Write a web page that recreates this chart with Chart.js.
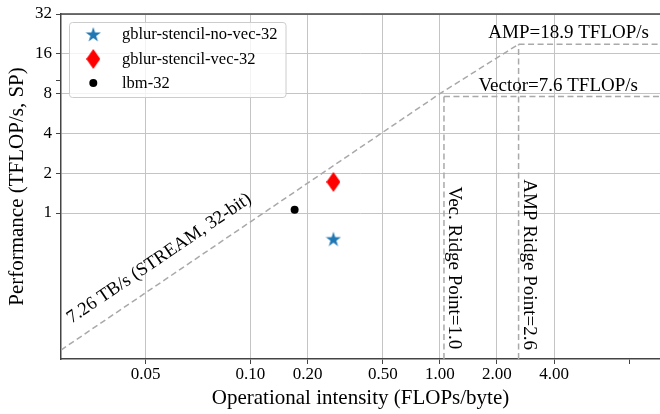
<!DOCTYPE html>
<html>
<head>
<meta charset="utf-8">
<script src="https://cdn.jsdelivr.net/npm/chart.js"></script>
<style>
  html, body { margin: 0; padding: 0; background: #fff; overflow: hidden; }
  #wrap { width: 660px; height: 414px; }
  canvas { display: block; }
</style>
</head>
<body>
<div id="wrap"><canvas id="roofline" width="660" height="414"></canvas></div>
<script>
// kernels
const kernelNames = ['gblur-stencil-no-vec-32', 'gblur-stencil-vec-32', 'lbm-32'];
const kernelIntensity = [0.274, 0.274, 0.171];
const kernelPerf = [0.64, 1.72, 1.06];

// roofline pieces
const bwX = [0.01, 1.0, 2.6];
const bwY = [0.092, 8.0, 18.9];
const vecPeak = 7.6;
const ampPeak = 18.9;
const vecRidge = 1.05;
const ampRidge = 2.6;

// axes
const xMin = 0.01, xMax = 14.5;
const yMin = 0.0787, yMax = 32;
const xTickValues = [0.028, 0.1, 0.2, 0.5, 1, 2, 4, 10];
const xTickLabels = ['0.05', '0.10', '0.20', '0.50', '1.00', '2.00', '4.00', ''];
const yTickValues = [1, 2, 4, 8, 10, 16, 32];
const yTickLabels = ['1', '2', '4', '8', '', '16', '32'];

const SERIF = "'Liberation Serif', 'Times New Roman', 'DejaVu Serif', serif";
const ROOF_GRAY = '#a9a9a9';

// matplotlib-like markers as little canvases
function starMarker(size, color) {
    const c = document.createElement('canvas');
    c.width = c.height = size;
    const g = c.getContext('2d');
    const r = size / 2, ri = r * 0.382;
    g.beginPath();
    for (let i = 0; i < 10; i++) {
        const a = -Math.PI / 2 + i * Math.PI / 5;
        const rr = i % 2 ? ri : r;
        g.lineTo(r + rr * Math.cos(a), r + 1 + rr * Math.sin(a));
    }
    g.closePath();
    g.fillStyle = color;
    g.fill();
    return c;
}
function diamondMarker(w, h, color) {
    const c = document.createElement('canvas');
    c.width = w; c.height = h;
    const g = c.getContext('2d');
    g.beginPath();
    g.moveTo(w / 2, 0); g.lineTo(w, h / 2); g.lineTo(w / 2, h); g.lineTo(0, h / 2);
    g.closePath();
    g.fillStyle = color;
    g.fill();
    return c;
}

const markerStyles = [starMarker(16, '#1f77b4'), diamondMarker(14, 20, '#ff0000'), 'circle'];
const markerColors = ['#1f77b4', '#ff0000', '#000000'];

const kernelSets = kernelNames.map((name, i) => ({
    label: name,
    data: [{ x: kernelIntensity[i], y: kernelPerf[i] }],
    pointStyle: markerStyles[i],
    pointRadius: i === 2 ? 4 : 8,
    backgroundColor: markerColors[i],
    borderColor: markerColors[i],
    borderWidth: 0,
    showLine: false
}));

function roofLine(xs, ys) {
    return {
        label: '',
        data: xs.map((x, i) => ({ x: x, y: ys[i] })),
        showLine: true,
        pointRadius: 0,
        borderColor: ROOF_GRAY,
        borderWidth: 1.5,
        borderDash: [6, 3.5],
        fill: false
    };
}

const roofSets = [
    roofLine(bwX, bwY),
    roofLine([vecRidge, xMax], [vecPeak, vecPeak]),
    roofLine([ampRidge, xMax], [ampPeak, ampPeak]),
    roofLine([vecRidge, vecRidge], [yMin, vecPeak]),
    roofLine([ampRidge, ampRidge], [yMin, ampPeak])
];

// top spine, labels on the roofline and the legend box
const extras = {
    id: 'extras',
    afterDatasetsDraw(chart) {
        const ctx = chart.ctx;
        const xs = chart.scales.x, ys = chart.scales.y;
        const area = chart.chartArea;
        ctx.save();
        ctx.fillStyle = '#000';

        // bandwidth label along the slope
        const p0 = { x: xs.getPixelForValue(bwX[0]), y: ys.getPixelForValue(bwY[0]) };
        const p1 = { x: xs.getPixelForValue(bwX[1]), y: ys.getPixelForValue(bwY[1]) };
        const ang = Math.atan2(p1.y - p0.y, p1.x - p0.x);
        const cx = xs.getPixelForValue(0.033);
        const cy = p0.y + (cx - p0.x) * Math.tan(ang) - 25;
        ctx.save();
        ctx.translate(cx, cy);
        ctx.rotate(ang);
        ctx.font = '18.5px ' + SERIF;
        ctx.textAlign = 'center';
        ctx.textBaseline = 'middle';
        ctx.fillText('7.26 TB/s (STREAM, 32-bit)', 0, 0);
        ctx.restore();

        // ridge point labels
        ctx.font = '19px ' + SERIF;
        ctx.textAlign = 'left';
        ctx.textBaseline = 'middle';
        [[vecRidge, vecPeak, 90, 'Vec. Ridge Point=1.0'], [ampRidge, ampPeak, 135, 'AMP Ridge Point=2.6']].forEach(r => {
            ctx.save();
            ctx.translate(xs.getPixelForValue(r[0]) + 10, ys.getPixelForValue(r[1]) + r[2]);
            ctx.rotate(Math.PI / 2);
            ctx.fillText(r[3], 0, 0);
            ctx.restore();
        });

        // peak labels
        ctx.font = '19px ' + SERIF;
        ctx.textAlign = 'right';
        ctx.textBaseline = 'alphabetic';
        ctx.fillText('AMP=18.9 TFLOP/s', area.right - 11, ys.getPixelForValue(ampPeak) - 6);
        ctx.fillText('Vector=7.6 TFLOP/s', area.right - 22, ys.getPixelForValue(vecPeak) - 6);

        // top spine
        ctx.strokeStyle = '#444';
        ctx.lineWidth = 1.5;
        ctx.beginPath();
        ctx.moveTo(area.left, area.top);
        ctx.lineTo(area.right, area.top);
        ctx.stroke();

        // legend
        const bx = 69.5, by = 22.5, bw = 216.5, bh = 75;
        ctx.beginPath();
        ctx.roundRect(bx, by, bw, bh, 3);
        ctx.fillStyle = 'rgba(255,255,255,0.8)';
        ctx.fill();
        ctx.strokeStyle = '#cccccc';
        ctx.lineWidth = 1;
        ctx.stroke();
        const rows = [34, 59, 83];
        ctx.font = '16.5px ' + SERIF;
        ctx.textAlign = 'left';
        ctx.textBaseline = 'middle';
        kernelNames.forEach((name, i) => {
            const st = markerStyles[i];
            if (st === 'circle') {
                ctx.beginPath();
                ctx.arc(93.3, rows[i], 4, 0, Math.PI * 2);
                ctx.fillStyle = markerColors[i];
                ctx.fill();
            } else {
                ctx.drawImage(st, 93.3 - st.width / 2, rows[i] - st.height / 2);
            }
            ctx.fillStyle = '#000';
            ctx.fillText(name, 122, rows[i] + 1);
        });
        ctx.restore();
    }
};

const tickFont = { family: SERIF, size: 17 };
const titleFont = { family: SERIF, size: 21 };

new Chart(document.getElementById('roofline').getContext('2d'), {
    type: 'scatter',
    data: { datasets: kernelSets.concat(roofSets) },
    options: {
        responsive: false,
        animation: false,
        layout: { autoPadding: false, padding: { top: 14, right: 0, left: 0, bottom: 0 } },
        plugins: { legend: { display: false }, tooltip: { enabled: false } },
        scales: {
            x: {
                type: 'logarithmic',
                min: xMin,
                max: xMax,
                afterBuildTicks: s => { s.ticks = xTickValues.map(v => ({ value: v })); },
                afterFit: s => { s.height = 55; s.paddingLeft = 0; s.paddingRight = 0; },
                ticks: {
                    autoSkip: false, maxRotation: 0, minRotation: 0, padding: 0,
                    color: '#000', font: tickFont,
                    callback: (v, i) => xTickLabels[i]
                },
                grid: {
                    color: c => xTickLabels[c.index] === '' ? 'rgba(0,0,0,0)' : '#c4c4c4',
                    tickColor: '#444', tickLength: 5, lineWidth: 1
                },
                border: { color: '#444', width: 1.5 },
                title: {
                    display: true, text: 'Operational intensity (FLOPs/byte)',
                    color: '#000', font: titleFont, padding: { top: 0, bottom: 3 }
                }
            },
            y: {
                type: 'logarithmic',
                min: yMin,
                max: yMax,
                afterBuildTicks: s => { s.ticks = yTickValues.map(v => ({ value: v })); },
                afterFit: s => { s.width = 61; s.paddingTop = 0; s.paddingBottom = 0; },
                ticks: {
                    autoSkip: false, padding: 4,
                    color: '#000', font: tickFont,
                    callback: (v, i) => yTickLabels[i]
                },
                grid: {
                    color: c => yTickLabels[c.index] === '' ? 'rgba(0,0,0,0)' : '#c4c4c4',
                    tickColor: '#444', tickLength: 5, lineWidth: 1
                },
                border: { color: '#444', width: 1.5 },
                title: {
                    display: true, text: 'Performance (TFLOP/s, SP)',
                    color: '#000', font: titleFont, padding: { top: 5, bottom: 0 }
                }
            }
        }
    },
    plugins: [extras]
});
</script>
</body>
</html>
